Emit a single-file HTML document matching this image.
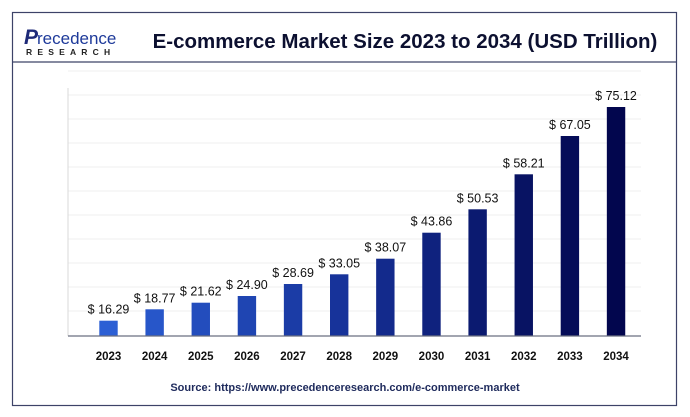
<!DOCTYPE html>
<html><head><meta charset="utf-8"><style>
html,body{margin:0;padding:0;background:#fff;}
svg{display:block;font-family:"Liberation Sans",sans-serif;}
</style></head><body>
<svg width="690" height="417" viewBox="0 0 690 417">
<rect x="0" y="0" width="690" height="417" fill="#fff"/>
<rect x="12.5" y="12.5" width="664" height="393" fill="none" stroke="#3d4368" stroke-width="1.2"/>
<line x1="12" y1="62" x2="677" y2="62" stroke="#3d4368" stroke-width="1.2"/>
<text x="24" y="44" font-size="21" font-weight="bold" fill="#1e2a78" font-style="italic">P</text>
<text x="37" y="44" font-size="17" fill="#1e3a9a">recedence</text>
<text x="26" y="55" font-size="8.5" font-weight="bold" fill="#222" letter-spacing="5.2">RESEARCH</text>
<text x="405" y="48" font-size="20.5" font-weight="bold" fill="#0c1030" text-anchor="middle">E-commerce Market Size 2023 to 2034 (USD Trillion)</text>
<g stroke="#efefef" stroke-width="1">
<line x1="68" x2="641" y1="71" y2="71"/><line x1="68" x2="641" y1="95" y2="95"/><line x1="68" x2="641" y1="119" y2="119"/><line x1="68" x2="641" y1="143" y2="143"/><line x1="68" x2="641" y1="167" y2="167"/><line x1="68" x2="641" y1="191" y2="191"/><line x1="68" x2="641" y1="215" y2="215"/><line x1="68" x2="641" y1="239" y2="239"/><line x1="68" x2="641" y1="263" y2="263"/><line x1="68" x2="641" y1="287" y2="287"/><line x1="68" x2="641" y1="311" y2="311"/>
</g>
<line x1="68" y1="88" x2="68" y2="336" stroke="#d8d8d8"/>
<g id="bars"></g>
<line x1="68" y1="336" x2="641" y2="336" stroke="#6b6f80" stroke-width="1.3"/>
<text x="345" y="391" font-size="11" font-weight="bold" fill="#1e2a5c" text-anchor="middle">Source: https://www.precedenceresearch.com/e-commerce-market</text>
</svg>
<script>
var v=[16.29,18.77,21.62,24.90,28.69,33.05,38.07,43.86,50.53,58.21,67.05,75.12];
var tops=[320.7,309.3,302.7,296,284,274.3,258.7,232.7,209.3,174.3,136,107];
var cols=["#2c5fd4","#2756c9","#234dbd","#1f45b2","#1b3ca6","#17339a","#132a8c","#0f227e","#0b1a70","#081363","#050c58","#02064e"];
var g=document.getElementById('bars'),s='';
for(var i=0;i<12;i++){var cx=108.5+i*46.14,y=tops[i],h=336-y;
s+='<rect x="'+(cx-9.2)+'" y="'+y+'" width="18.4" height="'+h+'" fill="'+cols[i]+'"/>';
s+='<text x="'+cx+'" y="'+(y-7)+'" font-size="12.5" fill="#111" text-anchor="middle">$ '+v[i].toFixed(2)+'</text>';
s+='<text x="'+cx+'" y="360" font-size="11.5" font-weight="bold" fill="#111" text-anchor="middle">'+(2023+i)+'</text>';}
g.innerHTML=s;
</script>
</body></html>
